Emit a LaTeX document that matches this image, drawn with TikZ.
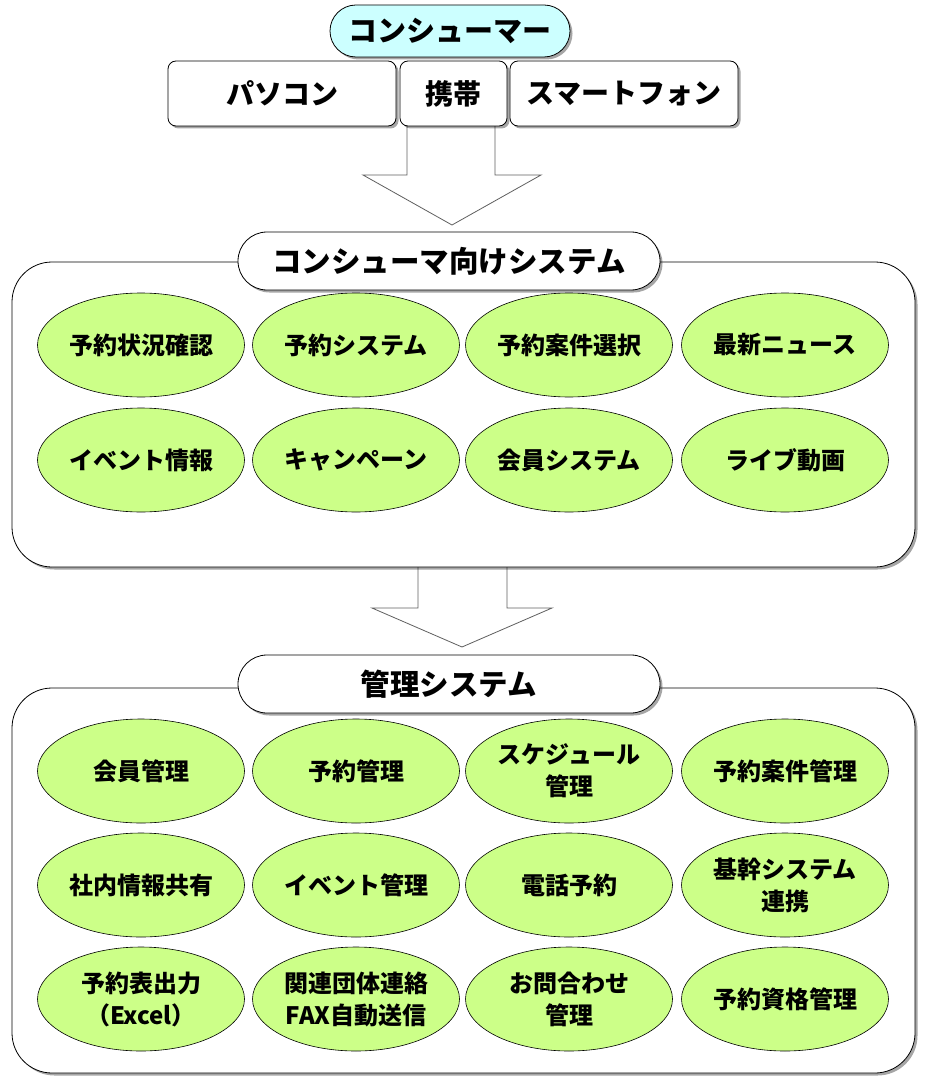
\documentclass[tikz,border=0pt]{standalone}
\usepackage{fontspec}
\setmainfont{Noto Sans CJK JP}
\usetikzlibrary{shapes.geometric,shadows}
\definecolor{cellgreen}{RGB}{204,255,136}
\definecolor{pillcyan}{RGB}{204,255,255}
\definecolor{arrowgray}{RGB}{95,95,95}
\tikzset{
  shad/.style={drop shadow={shadow xshift=2.5pt,shadow yshift=-2.5pt,opacity=.35,fill=black}},
  devbox/.style={draw=black, line width=0.8pt, fill=white, rounded corners=8pt,
    minimum height=65pt, inner sep=0pt, font=\bfseries\fontsize{28}{32}\selectfont, shad},
  toppill/.style={draw=black, line width=0.8pt, fill=pillcyan, rounded corners=26pt,
    minimum width=240pt, minimum height=52pt, inner sep=0pt, font=\bfseries\fontsize{29}{32}\selectfont, shad},
  titlepill/.style={draw=black, line width=0.8pt, fill=white, rounded corners=29pt,
    minimum width=422pt, minimum height=58pt, inner sep=0pt, font=\bfseries\fontsize{29.5}{34}\selectfont, shad},
  panel/.style={draw=black, line width=0.8pt, fill=white, rounded corners=40pt, inner sep=0pt, shad},
  func/.style={ellipse, draw=black, line width=0.6pt, fill=cellgreen, minimum width=207pt,
    minimum height=104pt, inner sep=0pt, align=center, font=\bfseries\fontsize{24}{32}\selectfont},
  blockarrow/.style={draw=arrowgray, fill=white, line width=0.8pt, line join=miter}
}
\begin{document}
\begin{tikzpicture}[x=1pt,y=-1pt]
\useasboundingbox (0,0) rectangle (925,1083);

% block arrows
\draw[blockarrow] (407,126) -- (407,175) -- (363,175) -- (452,225) -- (541,175) -- (495,175) -- (495,126);
\draw[blockarrow] (418,560) -- (418,608) -- (372,608) -- (462,647) -- (552,608) -- (507,608) -- (507,560) -- cycle;

% top
\node[devbox, minimum width=228pt] (pc) at (282,93.5) {パソコン};
\node[devbox, minimum width=107pt] (mobile) at (453.5,93.5) {携帯};
\node[devbox, minimum width=228pt] (smart) at (624,93.5) {スマートフォン};
\node[toppill] (consumer) at (450,31) {コンシューマー};

% consumer system panel
\node[panel, minimum width=903pt, minimum height=305pt] (sys1) at (463.5,414.5) {};
\node[titlepill] (sys1title) at (449,261) {コンシューマ向けシステム};

\node[func] (c11) at (141,345) {予約状況確認};
\node[func] (c12) at (356,345) {予約システム};
\node[func] (c13) at (569,345) {予約案件選択};
\node[func] (c14) at (785,345) {最新ニュース};
\node[func] (c21) at (141,460) {イベント情報};
\node[func] (c22) at (356,460) {キャンペーン};
\node[func] (c23) at (569,460) {会員システム};
\node[func] (c24) at (785,460) {ライブ動画};

% management panel
\node[panel, minimum width=903pt, minimum height=385pt] (sys2) at (463.5,880.5) {};
\node[titlepill] (sys2title) at (449,684) {管理システム};

\node[func] (m11) at (141,771) {会員管理};
\node[func] (m12) at (356,771) {予約管理};
\node[func] (m13) at (569,771) {スケジュール\\管理};
\node[func] (m14) at (785,771) {予約案件管理};
\node[func] (m21) at (141,885) {社内情報共有};
\node[func] (m22) at (356,885) {イベント管理};
\node[func] (m23) at (569,885) {電話予約};
\node[func] (m24) at (785,885) {基幹システム\\連携};
\node[func] (m31) at (141,999) {予約表出力\\（Excel）};
\node[func] (m32) at (356,999) {関連団体連絡\\FAX自動送信};
\node[func] (m33) at (569,999) {お問合わせ\\管理};
\node[func] (m34) at (785,999) {予約資格管理};
\end{tikzpicture}
\end{document}
